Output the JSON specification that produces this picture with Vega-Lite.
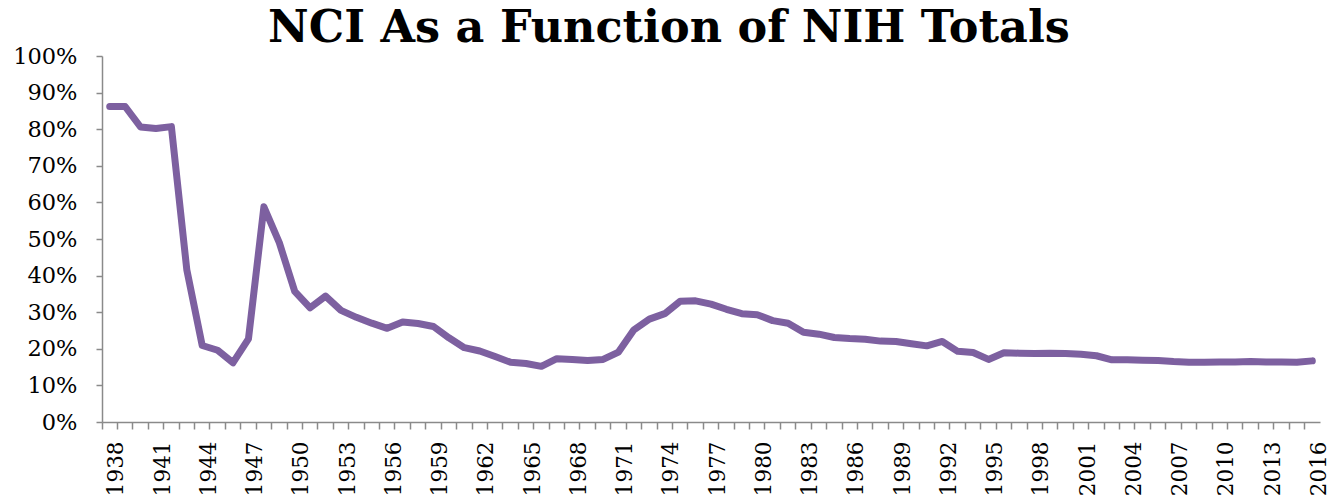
{
  "$schema": "https://vega.github.io/schema/vega-lite/v6.json",
  "autosize": {"type": "none"},
  "width": 1218,
  "height": 366,
  "padding": {"left": 102, "top": 56, "right": 8, "bottom": 79},
  "background": "white",
  "title": {
    "text": "NCI As a Function of NIH Totals",
    "font": "DejaVu Serif",
    "fontWeight": "bold",
    "fontSize": 44.5,
    "color": "black",
    "anchor": "middle",
    "frame": "group",
    "dx": -42,
    "baseline": "alphabetic",
    "offset": -41
  },
  "config": {
    "view": {"stroke": null},
    "axis": {
      "labelFont": "DejaVu Serif",
      "labelColor": "black",
      "domainColor": "#8a8a8a",
      "tickColor": "#8a8a8a",
      "domainWidth": 1.5,
      "tickWidth": 1.5,
      "grid": false,
      "title": null
    }
  },
  "data": {
    "values": [
      {"year": 1938, "share": 0.862}, {"year": 1939, "share": 0.862}, {"year": 1940, "share": 0.806},
      {"year": 1941, "share": 0.802}, {"year": 1942, "share": 0.807}, {"year": 1943, "share": 0.416},
      {"year": 1944, "share": 0.209}, {"year": 1945, "share": 0.196}, {"year": 1946, "share": 0.162},
      {"year": 1947, "share": 0.227}, {"year": 1948, "share": 0.588}, {"year": 1949, "share": 0.49},
      {"year": 1950, "share": 0.357}, {"year": 1951, "share": 0.312}, {"year": 1952, "share": 0.344},
      {"year": 1953, "share": 0.305}, {"year": 1954, "share": 0.286}, {"year": 1955, "share": 0.27},
      {"year": 1956, "share": 0.256}, {"year": 1957, "share": 0.273}, {"year": 1958, "share": 0.269},
      {"year": 1959, "share": 0.261}, {"year": 1960, "share": 0.23}, {"year": 1961, "share": 0.203},
      {"year": 1962, "share": 0.194}, {"year": 1963, "share": 0.179}, {"year": 1964, "share": 0.163},
      {"year": 1965, "share": 0.16}, {"year": 1966, "share": 0.152}, {"year": 1967, "share": 0.173},
      {"year": 1968, "share": 0.171}, {"year": 1969, "share": 0.168}, {"year": 1970, "share": 0.171},
      {"year": 1971, "share": 0.191}, {"year": 1972, "share": 0.252}, {"year": 1973, "share": 0.281},
      {"year": 1974, "share": 0.296}, {"year": 1975, "share": 0.33}, {"year": 1976, "share": 0.331},
      {"year": 1977, "share": 0.322}, {"year": 1978, "share": 0.308}, {"year": 1979, "share": 0.296},
      {"year": 1980, "share": 0.293}, {"year": 1981, "share": 0.277}, {"year": 1982, "share": 0.27},
      {"year": 1983, "share": 0.245}, {"year": 1984, "share": 0.24}, {"year": 1985, "share": 0.231},
      {"year": 1986, "share": 0.228}, {"year": 1987, "share": 0.226}, {"year": 1988, "share": 0.221},
      {"year": 1989, "share": 0.22}, {"year": 1990, "share": 0.214}, {"year": 1991, "share": 0.208},
      {"year": 1992, "share": 0.22}, {"year": 1993, "share": 0.193}, {"year": 1994, "share": 0.19},
      {"year": 1995, "share": 0.171}, {"year": 1996, "share": 0.189}, {"year": 1997, "share": 0.188},
      {"year": 1998, "share": 0.187}, {"year": 1999, "share": 0.188}, {"year": 2000, "share": 0.187},
      {"year": 2001, "share": 0.185}, {"year": 2002, "share": 0.181}, {"year": 2003, "share": 0.17},
      {"year": 2004, "share": 0.17}, {"year": 2005, "share": 0.169}, {"year": 2006, "share": 0.168},
      {"year": 2007, "share": 0.165}, {"year": 2008, "share": 0.163}, {"year": 2009, "share": 0.163},
      {"year": 2010, "share": 0.164}, {"year": 2011, "share": 0.164}, {"year": 2012, "share": 0.165},
      {"year": 2013, "share": 0.164}, {"year": 2014, "share": 0.164}, {"year": 2015, "share": 0.163},
      {"year": 2016, "share": 0.167}
    ]
  },
  "mark": {
    "type": "line",
    "color": "#7D60A0",
    "strokeWidth": 7,
    "strokeCap": "round",
    "strokeJoin": "round"
  },
  "encoding": {
    "x": {
      "field": "year",
      "type": "ordinal",
      "bandPosition": 0.5,
      "scale": {"type": "band", "paddingInner": 0, "paddingOuter": 0},
      "axis": {
        "bandPosition": 0,
        "labelOffset": 7.71,
        "labelAngle": -90,
        "labelAlign": "right",
        "labelBaseline": "middle",
        "labelFontSize": 21.5,
        "labelOverlap": false,
        "labelPadding": 12,
        "tickSize": 7,
        "labelExpr": "datum.value % 3 == 0 ? datum.value : ''"
      }
    },
    "y": {
      "field": "share",
      "type": "quantitative",
      "scale": {"domain": [0, 1], "nice": false, "zero": true},
      "axis": {
        "values": [0, 0.1, 0.2, 0.3, 0.4, 0.5, 0.6, 0.7, 0.8, 0.9, 1],
        "format": ".0%",
        "labelFontSize": 22.5,
        "tickSize": 6,
        "labelPadding": 19
      }
    }
  }
}
